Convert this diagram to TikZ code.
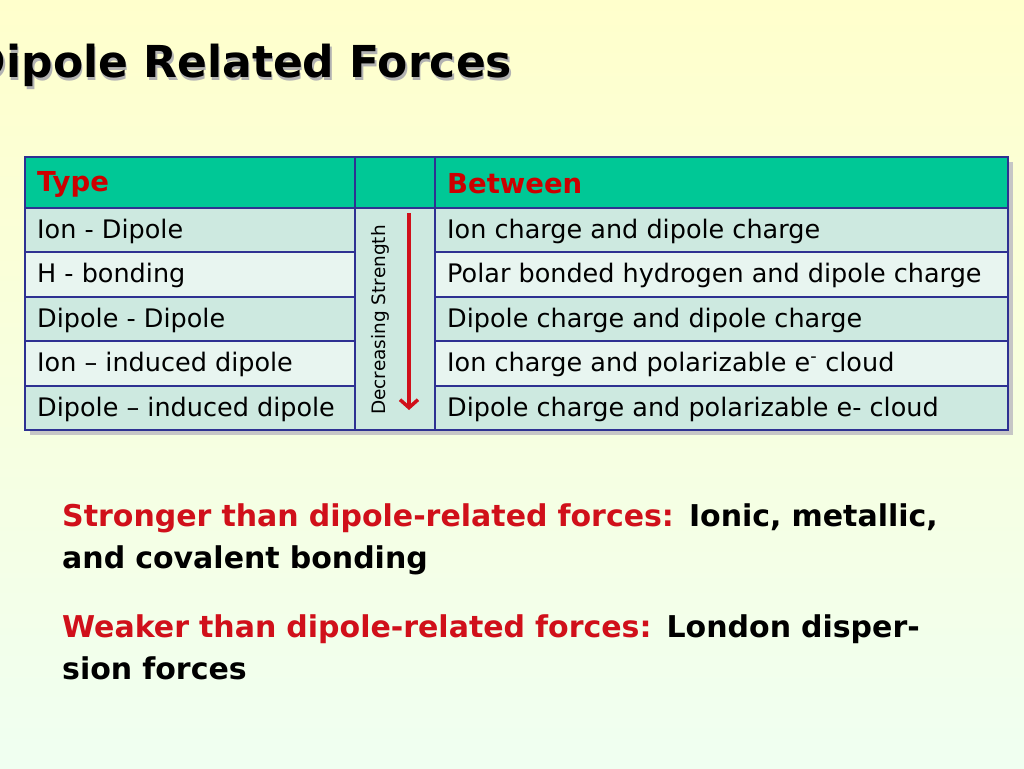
\documentclass[tikz,border=0pt]{standalone}
\usepackage{fontspec}
\usetikzlibrary{arrows.meta}
\setmainfont{DejaVu Sans}
\begin{document}
\begin{tikzpicture}[x=1pt,y=-1pt,
  cell/.style={anchor=west,inner sep=0pt,font=\fontsize{25.5}{28}\selectfont},
  head/.style={anchor=west,inner sep=0pt,font=\fontsize{27.5}{30}\bfseries\selectfont,text=red!80!black},
  big/.style={anchor=north west,inner sep=0pt,align=left,font=\fontsize{30}{42}\bfseries\selectfont,text width=905pt}]
\definecolor{hd}{HTML}{00C896}
\definecolor{ra}{HTML}{CDE9E0}
\definecolor{rb}{HTML}{E8F5F0}
\definecolor{bd}{HTML}{2E3192}
\definecolor{rd}{HTML}{D0101A}
\shade[top color=yellow!20!white,bottom color=cyan!8!green!6!white] (0,0) rectangle (1024,768);
\useasboundingbox (0,0) rectangle (1024,768);
\node[font=\fontsize{44}{50}\bfseries\selectfont,text=black,
  preaction={draw=none}] (title) at (512,67) {\makebox[0pt]{\raisebox{-3pt}{\hspace{3pt}\textcolor{gray!60}{Dipole Related Forces}}}\makebox[0pt]{Dipole Related Forces}\phantom{Dipole Related Forces}};
% shadow
\fill[gray!45] (30,162) rectangle (1013,435);
\fill[hd] (25,157) rectangle (1008,208);
\foreach \a/\b/\c in {208/252/ra,252/297/rb,297/341/ra,341/386/rb,386/430/ra}{
  \fill[\c] (25,\a) rectangle (1008,\b);}
\fill[ra] (355,208) rectangle (435,430);
\draw[bd,line width=2.2pt] (25,157) rectangle (1008,430);
\draw[bd,line width=2.2pt] (25,208) -- (1008,208);
\foreach \yy in {252,297,341,386}{\draw[bd,line width=2pt] (25,\yy) -- (355,\yy) (435,\yy) -- (1008,\yy);}
\draw[bd,line width=2.2pt] (355,157) -- (355,430) (435,157) -- (435,430);
\node[head] (h1) at (37,184) {Type};
\node[head] (h2) at (447,184) {Between};
\node[cell] (a1) at (37,231) {Ion - Dipole};
\node[cell] (a2) at (37,275) {H - bonding};
\node[cell] (a3) at (37,320) {Dipole - Dipole};
\node[cell] (a4) at (37,364) {Ion – induced dipole};
\node[cell] (a5) at (37,409) {Dipole – induced dipole};
\node[cell] (b1) at (447,231) {Ion charge and dipole charge};
\node[cell] (b2) at (447,275) {Polar bonded hydrogen and dipole charge};
\node[cell] (b3) at (447,320) {Dipole charge and dipole charge};
\node[cell] (b4) at (447,364) {Ion charge and polarizable e\textsuperscript{-} cloud};
\node[cell] (b5) at (447,409) {Dipole charge and polarizable e- cloud};
\node[rotate=90,inner sep=0pt,font=\fontsize{18.5}{20}\selectfont] (ds) at (380,320) {Decreasing Strength};
\coordinate (ar1) at (409,213);
\coordinate (ar2) at (409,410);
\draw[rd,line width=3.5pt,-{Straight Barb[length=8pt,width=18pt]}] (ar1) -- (ar2);
\node[big] (p1) at (62,503) {\textcolor{rd}{Stronger than dipole-related forces:} Ionic, metallic, and covalent bonding};
\node[big] (p2) at (62,614) {\textcolor{rd}{Weaker than dipole-related forces:} London dispersion forces};
\end{tikzpicture}
\end{document}
